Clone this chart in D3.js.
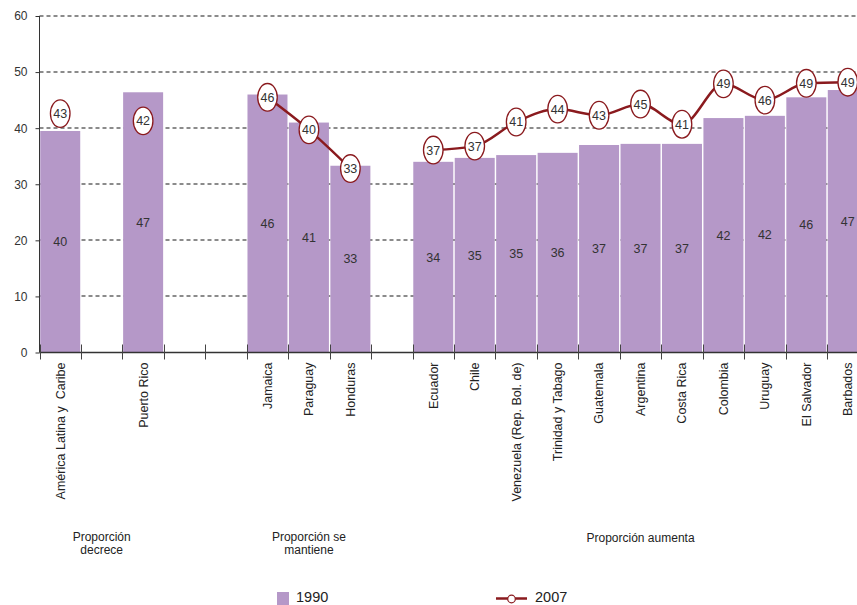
<!DOCTYPE html>
<html>
<head>
<meta charset="utf-8">
<script src="https://cdn.jsdelivr.net/npm/d3@7"></script>
<style>
	body { margin: 0; background: #fff; }
	svg { display: block; font-family: 'Liberation Sans', Arial, sans-serif; }
</style>
</head>
<body>
<div id="vis"></div>
<script>
// categories ('' = empty slot between groups)
var categories = ['América Latina y  Caribe', '', 'Puerto Rico', '', '', 'Jamaica', 'Paraguay', 'Honduras', '',
	'Ecuador', 'Chile', 'Venezuela (Rep. Bol. de)', 'Trinidad y Tabago', 'Guatemala', 'Argentina',
	'Costa Rica', 'Colombia', 'Uruguay', 'El Salvador', 'Barbados'];

// 1990 bars: plotted height and printed label
var values1990 = [39.5, null, 46.4, null, null, 46.0, 41.0, 33.3, null,
	34.0, 34.7, 35.2, 35.6, 37.0, 37.2, 37.2, 41.8, 42.2, 45.5, 46.8];
var labels1990 = ['40', '', '47', '', '', '46', '41', '33', '',
	'34', '35', '35', '36', '37', '37', '37', '42', '42', '46', '47'];

// 2007 line: plotted position and printed label
var values2007 = [42.6, null, 41.3, null, null, 45.5, 39.7, 32.8, null,
	36.1, 36.8, 41.1, 43.4, 42.3, 44.3, 40.7, 47.9, 45.0, 48.0, 48.2];
var labels2007 = ['43', '', '42', '', '', '46', '40', '33', '',
	'37', '37', '41', '44', '43', '45', '41', '49', '46', '49', '49'];

var yTicks = [0, 10, 20, 30, 40, 50, 60];

var groupLabels = [['Proporción', 'decrece'], ['Proporción se', 'mantiene'], ['Proporción aumenta']];
var groupFirst = [0, 5, 9];
var groupLast = [2, 7, 19];

var seriesNames = ['1990', '2007'];

var width = 857,
	height = 605;

var margin = { left: 39.5, top: 16, right: 0, bottom: 252.5 };

var barColor = '#b598c8',
	lineColor = '#8a1a1e',
	textColor = '#333';

var svg = d3.select('#vis')
	.append('svg')
	.attr('width', width)
	.attr('height', height);

var xScale = d3.scaleBand()
	.domain(d3.range(categories.length))
	.range([margin.left, margin.left + 41.45 * categories.length])
	.paddingInner(0.035)
	.paddingOuter(0.0175);

var step = xScale.step();

var yScale = d3.scaleLinear()
	.domain([0, 60])
	.range([height - margin.bottom, margin.top]);

var cx = function(i) { return xScale(i) + xScale.bandwidth() / 2; };

// dashed gridlines
svg.append('g')
	.selectAll('line')
	.data(yTicks.slice(1))
	.enter().append('line')
		.attr('x1', margin.left)
		.attr('x2', width)
		.attr('y1', function(d) { return Math.round(yScale(d)); })
		.attr('y2', function(d) { return Math.round(yScale(d)); })
		.attr('stroke', '#666')
		.attr('stroke-width', 1.4)
		.attr('stroke-dasharray', '4,3');

// bars
var idx = d3.range(categories.length).filter(function(i) { return values1990[i] != null; });

svg.append('g')
	.selectAll('rect')
	.data(idx)
	.enter().append('rect')
		.attr('x', function(i) { return xScale(i); })
		.attr('width', xScale.bandwidth())
		.attr('y', function(i) { return yScale(values1990[i]); })
		.attr('height', function(i) { return yScale(0) - yScale(values1990[i]); })
		.attr('fill', barColor);

svg.append('g')
	.selectAll('text')
	.data(idx)
	.enter().append('text')
		.attr('x', cx)
		.attr('y', function(i) { return (yScale(0) + yScale(values1990[i])) / 2; })
		.attr('dy', '0.35em')
		.attr('text-anchor', 'middle')
		.attr('font-size', 12.5)
		.attr('fill', textColor)
		.text(function(i) { return labels1990[i]; });

// y axis
var yAxis = d3.axisLeft(yScale)
	.tickValues(yTicks)
	.tickSize(4)
	.tickPadding(8)
	.tickFormat(d3.format('d'));

var yAxisG = svg.append('g')
	.attr('transform', 'translate(' + margin.left + ',0)')
	.call(yAxis);
yAxisG.select('.domain').attr('stroke', '#333').attr('d', 'M0,' + margin.top + 'V' + yScale(0));
yAxisG.selectAll('.tick line').attr('stroke', '#333');
yAxisG.selectAll('.tick text')
	.attr('font-size', 12)
	.attr('font-family', 'Liberation Sans, Arial, sans-serif')
	.attr('fill', textColor);

// x axis: baseline + crossing ticks at slot boundaries
var x0 = xScale.range()[0];
svg.append('line')
	.attr('x1', x0)
	.attr('x2', xScale.range()[1])
	.attr('y1', yScale(0))
	.attr('y2', yScale(0))
	.attr('stroke', '#333')
	.attr('stroke-width', 1.3);

svg.append('g')
	.selectAll('line')
	.data(d3.range(categories.length + 1))
	.enter().append('line')
		.attr('x1', function(i) { return Math.round(x0 + i * step) + 0.5; })
		.attr('x2', function(i) { return Math.round(x0 + i * step) + 0.5; })
		.attr('y1', yScale(0) - 8)
		.attr('y2', yScale(0) + 7)
		.attr('stroke', '#444')
		.attr('stroke-width', 1);

svg.append('g')
	.selectAll('text')
	.data(d3.range(categories.length).filter(function(i) { return categories[i] !== ''; }))
	.enter().append('text')
		.attr('transform', function(i) { return 'translate(' + cx(i) + ',' + (yScale(0) + 10) + ') rotate(-90)'; })
		.attr('dy', '0.35em')
		.attr('text-anchor', 'end')
		.attr('font-size', 12.5)
		.attr('fill', '#222')
		.style('white-space', 'pre')
		.text(function(i) { return categories[i]; });

// 2007 line
var line = d3.line()
	.defined(function(i) { return values2007[i] != null; })
	.x(cx)
	.y(function(i) { return yScale(values2007[i]); })
	.curve(d3.curveMonotoneX);

svg.append('path')
	.datum(d3.range(categories.length))
	.attr('d', line)
	.attr('fill', 'none')
	.attr('stroke', lineColor)
	.attr('stroke-width', 2.5);

var idx07 = d3.range(categories.length).filter(function(i) { return values2007[i] != null; });

var markers = svg.append('g')
	.selectAll('g')
	.data(idx07)
	.enter().append('g')
		.attr('transform', function(i) { return 'translate(' + cx(i) + ',' + yScale(values2007[i]) + ')'; });

markers.append('ellipse')
	.attr('rx', 9.8)
	.attr('ry', 13.8)
	.attr('fill', '#fff')
	.attr('stroke', lineColor)
	.attr('stroke-width', 1.3);

markers.append('text')
	.attr('dy', '0.36em')
	.attr('text-anchor', 'middle')
	.attr('font-size', 12.5)
	.attr('fill', textColor)
	.text(function(i) { return labels2007[i]; });

// group labels under the axis labels
var groups = svg.append('g')
	.selectAll('text')
	.data(d3.range(groupLabels.length))
	.enter().append('text')
		.attr('text-anchor', 'middle')
		.attr('font-size', 12)
		.attr('fill', '#222')
		.attr('transform', function(g) {
			var mid = (xScale(groupFirst[g]) + xScale(groupLast[g]) + xScale.bandwidth()) / 2;
			var y = groupLabels[g].length > 1 ? 541 : 542;
			return 'translate(' + mid + ',' + y + ')';
		});

groups.selectAll('tspan')
	.data(function(g) { return groupLabels[g]; })
	.enter().append('tspan')
		.attr('x', 0)
		.attr('dy', function(d, j) { return j === 0 ? 0 : 13; })
		.text(function(d) { return d; });

// legend
var legend = svg.append('g');

legend.append('rect')
	.attr('x', 277)
	.attr('y', 592)
	.attr('width', 12)
	.attr('height', 13)
	.attr('fill', barColor);

legend.append('text')
	.attr('x', 296)
	.attr('y', 601)
	.attr('dy', '0.1em')
	.attr('font-size', 14.5)
	.attr('fill', '#222')
	.text(seriesNames[0]);

legend.append('line')
	.attr('x1', 496)
	.attr('x2', 527)
	.attr('y1', 598.5)
	.attr('y2', 598.5)
	.attr('stroke', lineColor)
	.attr('stroke-width', 2.5);

legend.append('circle')
	.attr('cx', 511.5)
	.attr('cy', 599)
	.attr('r', 3.8)
	.attr('fill', '#fff')
	.attr('stroke', lineColor)
	.attr('stroke-width', 1.2);

legend.append('text')
	.attr('x', 535)
	.attr('y', 601)
	.attr('dy', '0.1em')
	.attr('font-size', 14.5)
	.attr('fill', '#222')
	.text(seriesNames[1]);
</script>
</body>
</html>
